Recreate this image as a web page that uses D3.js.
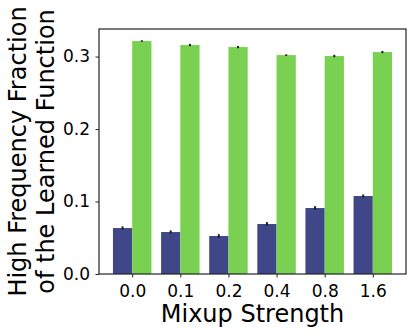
<!DOCTYPE html>
<html><head><meta charset="utf-8">
<script src="https://cdn.jsdelivr.net/npm/d3@7"></script>
<style>body{margin:0;background:#fff;} svg{display:block;font-family:"DejaVu Sans",sans-serif;}</style>
</head><body>
<script>
const categories = ["0.0","0.1","0.2","0.4","0.8","1.6"];
const seriesBlue = [0.0634,0.0579,0.0524,0.069,0.091,0.1076];
const errBlue = [0.0012,0.0012,0.0015,0.0015,0.0015,0.001];
const seriesGreen = [0.3214,0.3159,0.3131,0.302,0.3007,0.3062];
const errGreen = [0.0,0.0005,0.0005,0.0,0.0006,0.0005];
const yTicks = [0.0,0.1,0.2,0.3];

const W=412,H=334;
const m={left:99,right:6,top:29,bottom:60};
const svg=d3.select("body").append("svg").attr("width",W).attr("height",H);
const x=d3.scaleLinear().domain([-0.69,5.69]).range([m.left,W-m.right]);
const y=d3.scaleLinear().domain([0,0.338]).range([H-m.bottom,m.top]);
const bw=0.4;
const g=svg.append("g");
const pxw=x(bw)-x(0);
g.selectAll(".b").data(seriesBlue).join("rect")
 .attr("x",(d,i)=>x(i-bw)).attr("width",pxw)
 .attr("y",d=>y(d)).attr("height",d=>y(0)-y(d)).attr("fill","#404788");
g.selectAll(".g").data(seriesGreen).join("rect")
 .attr("x",(d,i)=>x(i)).attr("width",pxw)
 .attr("y",d=>y(d)).attr("height",d=>y(0)-y(d)).attr("fill","#7AD151");
function errs(vals,errsA,off){
 g.append("g").selectAll("line").data(vals).join("line")
  .attr("x1",(d,i)=>x(i+off)).attr("x2",(d,i)=>x(i+off))
  .attr("y1",(d,i)=>y(d+errsA[i])-0.8).attr("y2",(d,i)=>y(d-errsA[i])+0.8)
  .attr("stroke","#222").attr("stroke-width",2);
}
errs(seriesBlue,errBlue,-bw/2);
errs(seriesGreen,errGreen,bw/2);

const xa=svg.append("g").attr("transform",`translate(0,${H-m.bottom})`)
 .call(d3.axisBottom(x).tickValues(d3.range(categories.length)).tickFormat(i=>categories[i]).tickSize(3.5).tickSizeOuter(0).tickPadding(7));
const ya=svg.append("g").attr("transform",`translate(${m.left},0)`)
 .call(d3.axisLeft(y).tickValues(yTicks).tickFormat(d3.format(".1f")).tickSize(3.5).tickSizeOuter(0).tickPadding(5.5));
[xa,ya].forEach(a=>{a.selectAll("text").attr("font-size",17).attr("fill","#000").attr("font-family","DejaVu Sans");a.select(".domain").remove();a.selectAll("line").attr("stroke","#222");});
svg.append("rect").attr("x",m.left).attr("y",m.top).attr("width",W-m.right-m.left).attr("height",H-m.bottom-m.top)
 .attr("fill","none").attr("stroke","#222").attr("stroke-width",1.2);

const cx=(m.left+W-m.right)/2, cy=(m.top+H-m.bottom)/2;
svg.append("text").attr("x",cx).attr("y",321.5).attr("text-anchor","middle").attr("font-size",24).text("Mixup Strength");
svg.append("text").attr("transform",`translate(25.5,${cy}) rotate(-90)`).attr("text-anchor","middle").attr("font-size",24).text("High Frequency Fraction");
svg.append("text").attr("transform",`translate(54,${cy}) rotate(-90)`).attr("text-anchor","middle").attr("font-size",24).text("of the Learned Function");
</script>
</body></html>
